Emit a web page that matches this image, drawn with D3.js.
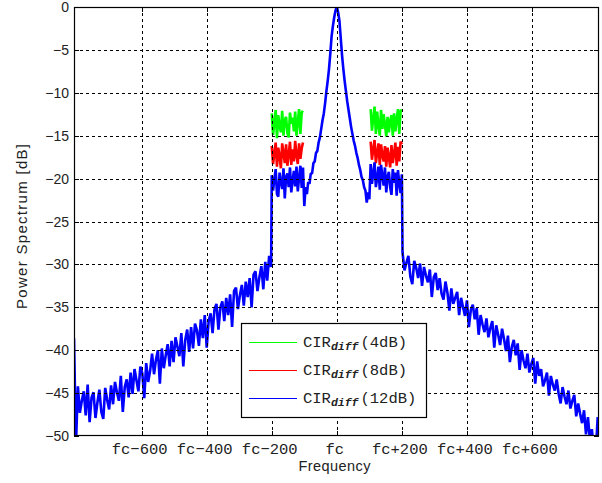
<!DOCTYPE html>
<html>
<head>
<meta charset="utf-8">
<script src="https://cdn.jsdelivr.net/npm/d3@7"></script>
<style>
  body { margin: 0; background: #fff; }
  svg { display: block; }
</style>
</head>
<body>
<div id="chart"></div>
<script>
// spectrum values in dB, one value per frequency bin
let blueLeftSkirt = [ // fc-808 .. fc-202, step 6
  -38.6, -51.0, -44.2, -47.3, -45.9, -44.8, -47.6, -44.0, -48.4, -45.5,
  -44.9, -47.9, -46.1, -44.6, -47.2, -48.0, -44.4, -45.8, -46.9, -44.1,
  -46.3, -43.7, -44.9, -45.9, -43.0, -47.2, -44.3, -43.4, -45.5, -42.6,
  -45.1, -42.2, -43.5, -44.8, -41.9, -42.7, -45.6, -41.5, -43.7, -42.4,
  -40.4, -42.8, -41.1, -40.0, -43.9, -39.8, -42.1, -40.6, -39.3, -41.9,
  -38.9, -41.4, -38.5, -39.6, -40.7, -38.0, -41.9, -38.8, -37.6, -40.2,
  -37.3, -39.8, -36.9, -37.7, -39.5, -36.4, -38.6, -35.9, -39.7, -36.6,
  -35.7, -38.0, -35.2, -34.6, -37.6, -35.0, -34.3, -36.6, -33.9, -35.9,
  -33.5, -37.3, -33.1, -32.7, -35.2, -33.6, -32.4, -34.8, -32.0, -33.8,
  -31.6, -35.0, -31.2, -30.8, -33.1, -31.5, -30.2, -32.9, -29.7, -31.9,
  -29.0, -30.3
]
let blueLeftPlateau = [ // fc-200 .. fc-104, step 4
  -19.6, -21.4, -20.1, -18.9, -21.8, -22.1, -19.3, -20.4, -21.2, -18.8,
  -22.3, -19.8, -19.4, -21.0, -18.7, -21.6, -20.2, -19.1, -20.9, -18.6,
  -21.5, -19.9, -18.5, -21.1, -18.7
]
let blueCenter = [ // fc-100 .. fc+100, step 4
  -23.2, -21.0, -21.8, -20.4, -20.6, -19.4, -19.4, -18.2, -18.0, -17.0,
  -16.8, -15.8, -15.2, -14.2, -13.2, -12.4, -11.2, -9.8, -8.6, -7.2,
  -5.4, -3.4, -2.2, -1.2, -0.4, 0.0, -0.6, -1.6, -3.6, -5.6,
  -7.2, -8.6, -9.8, -11.0, -12.0, -13.0, -14.0, -14.8, -15.6, -16.2,
  -17.0, -17.6, -18.4, -19.0, -19.8, -20.2, -21.0, -21.4, -22.8, -21.6,
  -22.4
]
let blueRightPlateau = [ // fc+104 .. fc+200, step 4
  -18.3, -20.6, -19.4, -18.1, -21.0, -20.0, -18.6, -21.3, -18.4, -19.7,
  -20.8, -18.7, -21.6, -19.8, -19.2, -21.0, -21.9, -18.9, -20.5, -19.3,
  -22.0, -19.0, -20.6, -21.7, -19.5
]
let blueRightSkirt = [ // fc+202 .. fc+802, step 6
  -28.6, -30.7, -29.8, -29.0, -31.4, -32.3, -29.6, -30.4, -31.6, -29.9,
  -32.5, -30.3, -31.3, -32.1, -30.6, -33.8, -31.5, -31.0, -33.0, -31.6,
  -33.4, -34.1, -32.0, -33.3, -35.4, -32.8, -34.6, -33.9, -33.2, -35.9,
  -33.9, -35.0, -36.0, -34.2, -37.3, -35.3, -34.7, -36.4, -35.1, -38.2,
  -35.9, -37.0, -37.9, -36.3, -38.5, -37.4, -36.6, -39.7, -37.1, -38.2,
  -39.4, -37.5, -38.7, -40.1, -38.3, -41.4, -39.6, -38.8, -40.6, -39.2,
  -42.3, -40.0, -41.2, -42.1, -40.4, -42.6, -41.6, -40.9, -43.9, -41.3,
  -43.0, -42.2, -44.2, -43.5, -42.6, -45.3, -43.0, -44.0, -44.7, -43.4,
  -45.1, -46.2, -44.3, -45.4, -46.3, -44.7, -46.8, -45.9, -45.2, -47.7,
  -46.2, -47.4, -48.5, -47.0, -49.8, -47.8, -50.4, -49.2, -51.5, -52.0,
  -47.8
]
// the other two series only show above the blue one on the plateaus
let redLeftPlateau = [
  -16.2, -18.3, -17.1, -15.8, -18.6, -16.4, -17.4, -18.8, -15.9, -17.0,
  -18.2, -16.0, -18.5, -17.2, -15.7, -18.4, -16.6, -18.0, -15.6, -17.3,
  -18.3, -15.9, -17.7, -16.5, -15.8
]
let redRightPlateau = [
  -15.7, -17.8, -16.6, -15.5, -18.2, -17.0, -15.9, -18.4, -16.0, -17.3,
  -18.0, -16.2, -18.6, -16.4, -17.5, -18.7, -16.1, -18.2, -17.1, -15.8,
  -18.5, -16.3, -18.0, -15.7, -16.0
]
let greenLeftPlateau = [
  -12.4, -14.9, -13.5, -12.0, -15.3, -12.6, -13.9, -14.6, -12.1, -15.0,
  -13.2, -12.8, -14.7, -15.2, -12.3, -13.6, -12.9, -14.5, -12.2, -15.0,
  -13.4, -11.9, -14.8, -12.3, -12.1
]
let greenRightPlateau = [
  -11.9, -14.4, -13.0, -11.6, -14.8, -12.2, -13.8, -15.0, -12.0, -14.2,
  -12.5, -13.7, -15.1, -12.8, -14.6, -13.3, -12.6, -15.0, -12.4, -14.5,
  -13.1, -11.9, -14.8, -12.1, -12.0
]

let xTickValues = [-600, -400, -200, 0, 200, 400, 600]
let xTickLabels = ['fc\u2212600', 'fc\u2212400', 'fc\u2212200', 'fc', 'fc+200', 'fc+400', 'fc+600']
let yTickValues = [0, -5, -10, -15, -20, -25, -30, -35, -40, -45, -50]
let legendLabels = ['(4dB)', '(8dB)', '(12dB)']
let seriesColors = ['#00ff00', '#ff0000', '#0000ff']

let margin = { top: 7, left: 74, right: 3, bottom: 47 }
let width = 602 - margin.left - margin.right
let height = 483 - margin.top - margin.bottom

let svg = d3
  .select('#chart')
  .append('svg')
  .attr('width', width + margin.left + margin.right)
  .attr('height', height + margin.top + margin.bottom)
  .append('g')
  .attr('transform', `translate(${margin.left}, ${margin.top})`)

let xPositionScale = d3.scaleLinear().domain([-808, 806]).range([0, width])
let yPositionScale = d3.scaleLinear().domain([-50, 0]).range([height, 0])

// bins -> {f, db}
function bins(start, step, values) {
  return values.map((v, i) => ({ f: start + i * step, db: v }))
}

let blue = [].concat(
  bins(-808, 6, blueLeftSkirt),
  bins(-200, 4, blueLeftPlateau),
  bins(-100, 4, blueCenter),
  bins(104, 4, blueRightPlateau),
  bins(202, 6, blueRightSkirt)
)
let series = [
  { color: seriesColors[0], parts: [bins(-200, 4, greenLeftPlateau), bins(104, 4, greenRightPlateau)] },
  { color: seriesColors[1], parts: [bins(-200, 4, redLeftPlateau), bins(104, 4, redRightPlateau)] },
  { color: seriesColors[2], parts: [blue] }
]

let line = d3
  .line()
  .x(d => xPositionScale(d.f))
  .y(d => yPositionScale(d.db))

svg
  .append('clipPath')
  .attr('id', 'plot-clip')
  .append('rect')
  .attr('width', width)
  .attr('height', height)

let plot = svg.append('g').attr('clip-path', 'url(#plot-clip)')

series.forEach(s => {
  plot
    .selectAll(null)
    .data(s.parts)
    .enter()
    .append('path')
    .attr('d', line)
    .attr('fill', 'none')
    .attr('stroke', s.color)
    .attr('stroke-width', 2.6)
    .attr('stroke-linejoin', 'bevel')
})

// dashed grid, drawn over the traces
let grid = svg.append('g').attr('class', 'grid')
grid
  .selectAll('.v-grid')
  .data(xTickValues)
  .enter()
  .append('line')
  .attr('x1', d => Math.round(xPositionScale(d)) + 0.5)
  .attr('x2', d => Math.round(xPositionScale(d)) + 0.5)
  .attr('y1', 0)
  .attr('y2', height)
grid
  .selectAll('.h-grid')
  .data(yTickValues.filter(d => d !== 0 && d !== -50))
  .enter()
  .append('line')
  .attr('x1', 0)
  .attr('x2', width)
  .attr('y1', d => Math.round(yPositionScale(d)) + 0.5)
  .attr('y2', d => Math.round(yPositionScale(d)) + 0.5)
grid
  .selectAll('line')
  .attr('stroke', '#000')
  .attr('stroke-width', 1)
  .attr('stroke-dasharray', '3,3')

// inside ticks on all four sides
let tickLen = 5
let ticks = svg.append('g').attr('stroke', '#000').attr('stroke-width', 1)
xTickValues.forEach(d => {
  let x = Math.round(xPositionScale(d)) + 0.5
  ticks.append('line').attr('x1', x).attr('x2', x).attr('y1', height).attr('y2', height - tickLen)
  ticks.append('line').attr('x1', x).attr('x2', x).attr('y1', 0).attr('y2', tickLen)
})
yTickValues.forEach(d => {
  let y = Math.round(yPositionScale(d)) + 0.5
  ticks.append('line').attr('x1', 0).attr('x2', tickLen).attr('y1', y).attr('y2', y)
  ticks.append('line').attr('x1', width).attr('x2', width - tickLen).attr('y1', y).attr('y2', y)
})

svg
  .append('rect')
  .attr('x', 0.5)
  .attr('y', 0.5)
  .attr('width', width - 1)
  .attr('height', height - 1)
  .attr('fill', 'none')
  .attr('stroke', '#000')
  .attr('stroke-width', 1.2)

// tick labels
svg
  .append('g')
  .selectAll('text')
  .data(yTickValues)
  .enter()
  .append('text')
  .attr('x', -5)
  .attr('y', d => yPositionScale(d))
  .attr('dy', '0.36em')
  .attr('text-anchor', 'end')
  .attr('font-family', '"Liberation Sans", Arial, sans-serif')
  .attr('font-size', 14)
  .attr('fill', '#222')
  .text(d => (d < 0 ? '\u2212' + Math.abs(d) : d))

svg
  .append('g')
  .selectAll('text')
  .data(xTickValues)
  .enter()
  .append('text')
  .attr('x', d => xPositionScale(d) - 2)
  .attr('y', height + 18)
  .attr('text-anchor', 'middle')
  .attr('font-family', '"Liberation Mono", "Courier New", monospace')
  .attr('font-size', 15.5)
  .attr('fill', '#222')
  .text((d, i) => xTickLabels[i])

// axis titles
svg
  .append('text')
  .attr('x', width / 2 - 2)
  .attr('y', height + 35)
  .attr('text-anchor', 'middle')
  .attr('font-family', '"Liberation Sans", Arial, sans-serif')
  .attr('font-size', 14.5)
  .attr('fill', '#222')
  .attr('textLength', 72)
  .text('Frequency')

svg
  .append('text')
  .attr('transform', `translate(${-47}, ${219.5}) rotate(-90)`)
  .attr('text-anchor', 'middle')
  .attr('font-family', '"Liberation Sans", Arial, sans-serif')
  .attr('font-size', 15)
  .attr('fill', '#222')
  .attr('textLength', 165)
  .text('Power Spectrum [dB]')

// legend
let legend = svg.append('g').attr('transform', 'translate(167, 316)')
legend
  .append('rect')
  .attr('x', 0.5)
  .attr('y', 0.5)
  .attr('width', 185)
  .attr('height', 94)
  .attr('fill', '#fff')
  .attr('stroke', '#000')
  .attr('stroke-width', 1.2)

let rows = legend
  .selectAll('.legend-row')
  .data(legendLabels)
  .enter()
  .append('g')
  .attr('class', 'legend-row')
  .attr('transform', (d, i) => `translate(0, ${19.5 + i * 28})`)

rows
  .append('line')
  .attr('x1', 8)
  .attr('x2', 56)
  .attr('stroke', (d, i) => seriesColors[i])
  .attr('stroke-width', 1.2)

let labels = rows
  .append('text')
  .attr('x', 62)
  .attr('y', 4)
  .attr('font-family', '"Liberation Mono", "Courier New", monospace')
  .attr('font-size', 15.5)
  .attr('fill', '#222')
labels.append('tspan').text('CIR')
labels
  .append('tspan')
  .attr('dy', 3)
  .attr('font-size', 11.5)
  .attr('font-style', 'italic')
  .attr('font-weight', 'bold')
  .text('diff')
labels
  .append('tspan')
  .attr('dy', -3)
  .attr('dx', 2)
  .text(d => d)
</script>
</body>
</html>
